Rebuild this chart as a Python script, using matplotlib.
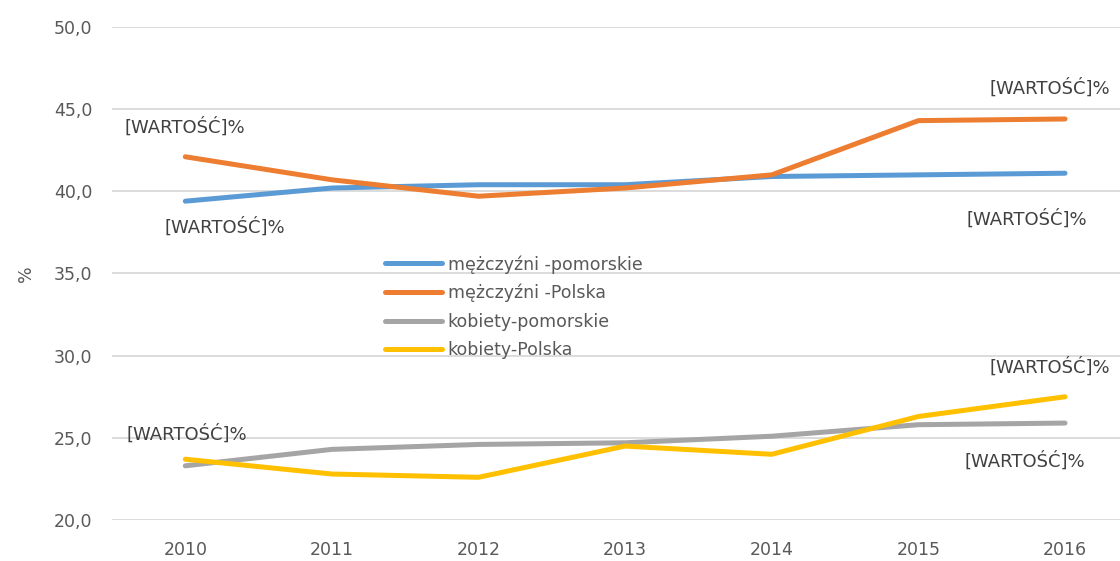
import matplotlib
matplotlib.use("Agg")
import matplotlib.pyplot as plt
from matplotlib.ticker import FuncFormatter

# dane
years = [2010, 2011, 2012, 2013, 2014, 2015, 2016]
m_pom = [39.4, 40.2, 40.4, 40.4, 40.9, 41.0, 41.1]
m_pl = [42.1, 40.7, 39.7, 40.2, 41.0, 44.3, 44.4]
k_pom = [23.3, 24.3, 24.6, 24.7, 25.1, 25.8, 25.9]
k_pl = [23.7, 22.8, 22.6, 24.5, 24.0, 26.3, 27.5]

labels = ["mężczyźni -pomorskie", "mężczyźni -Polska", "kobiety-pomorskie", "kobiety-Polska"]
colors = ["#5B9BD5", "#ED7D31", "#A5A5A5", "#FFC000"]
yticks = [20, 25, 30, 35, 40, 45, 50]

narrow = ["Liberation Sans Narrow", "DejaVu Sans"]

fig = plt.figure(figsize=(11.2, 5.61), dpi=100)
ax = fig.add_axes([0.1, 0.073, 0.9, 0.879])

for vals, lab, col in zip([m_pom, m_pl, k_pom, k_pl], labels, colors):
    ax.plot(years, vals, color=col, lw=3.6, label=lab, solid_capstyle="round", zorder=3)

# etykiety danych (szablon z Excela)
txt = "[WARTOŚĆ]%"
ann = [
    (0, m_pl, (0, 30)),
    (0, m_pom, (40, -26)),
    (6, m_pl, (-15, 31)),
    (6, m_pom, (-38, -46)),
    (0, k_pl, (2, 25)),
    (6, k_pl, (-15, 30)),
    (6, k_pom, (-40, -38)),
]
for i, series, off in ann:
    ax.annotate(txt, xy=(years[i], series[i]), xytext=off, textcoords="offset pixels",
                ha="center", va="center", fontsize=13, color="#404040", family=narrow)

ax.set_ylim(20, 50)
ax.set_yticks(yticks)
ax.yaxis.set_major_formatter(FuncFormatter(lambda v, p: f"{v:.1f}".replace(".", ",")))
ax.set_xlim(2009.5, 2016.375)
ax.set_xticks(years)
ax.grid(axis="y", color="#D9D9D9", lw=1.3)
ax.set_axisbelow(True)
for s in ax.spines.values():
    s.set_visible(False)
ax.tick_params(length=0, labelsize=12.5, labelcolor="#595959")
ax.tick_params(axis="y", pad=14)
ax.tick_params(axis="x", pad=15)
ax.set_ylabel("%", fontsize=12.5, color="#595959", labelpad=14)

ax.legend(loc="upper left", bbox_to_anchor=(385 / 1120, (561 - 255) / 561),
          bbox_transform=fig.transFigure, frameon=False, borderpad=0, borderaxespad=0,
          handlelength=3.3, handletextpad=0.3, labelspacing=0.6,
          prop={"family": narrow, "size": 12.5}, labelcolor="#595959")

fig.savefig("out.png", dpi=100)
